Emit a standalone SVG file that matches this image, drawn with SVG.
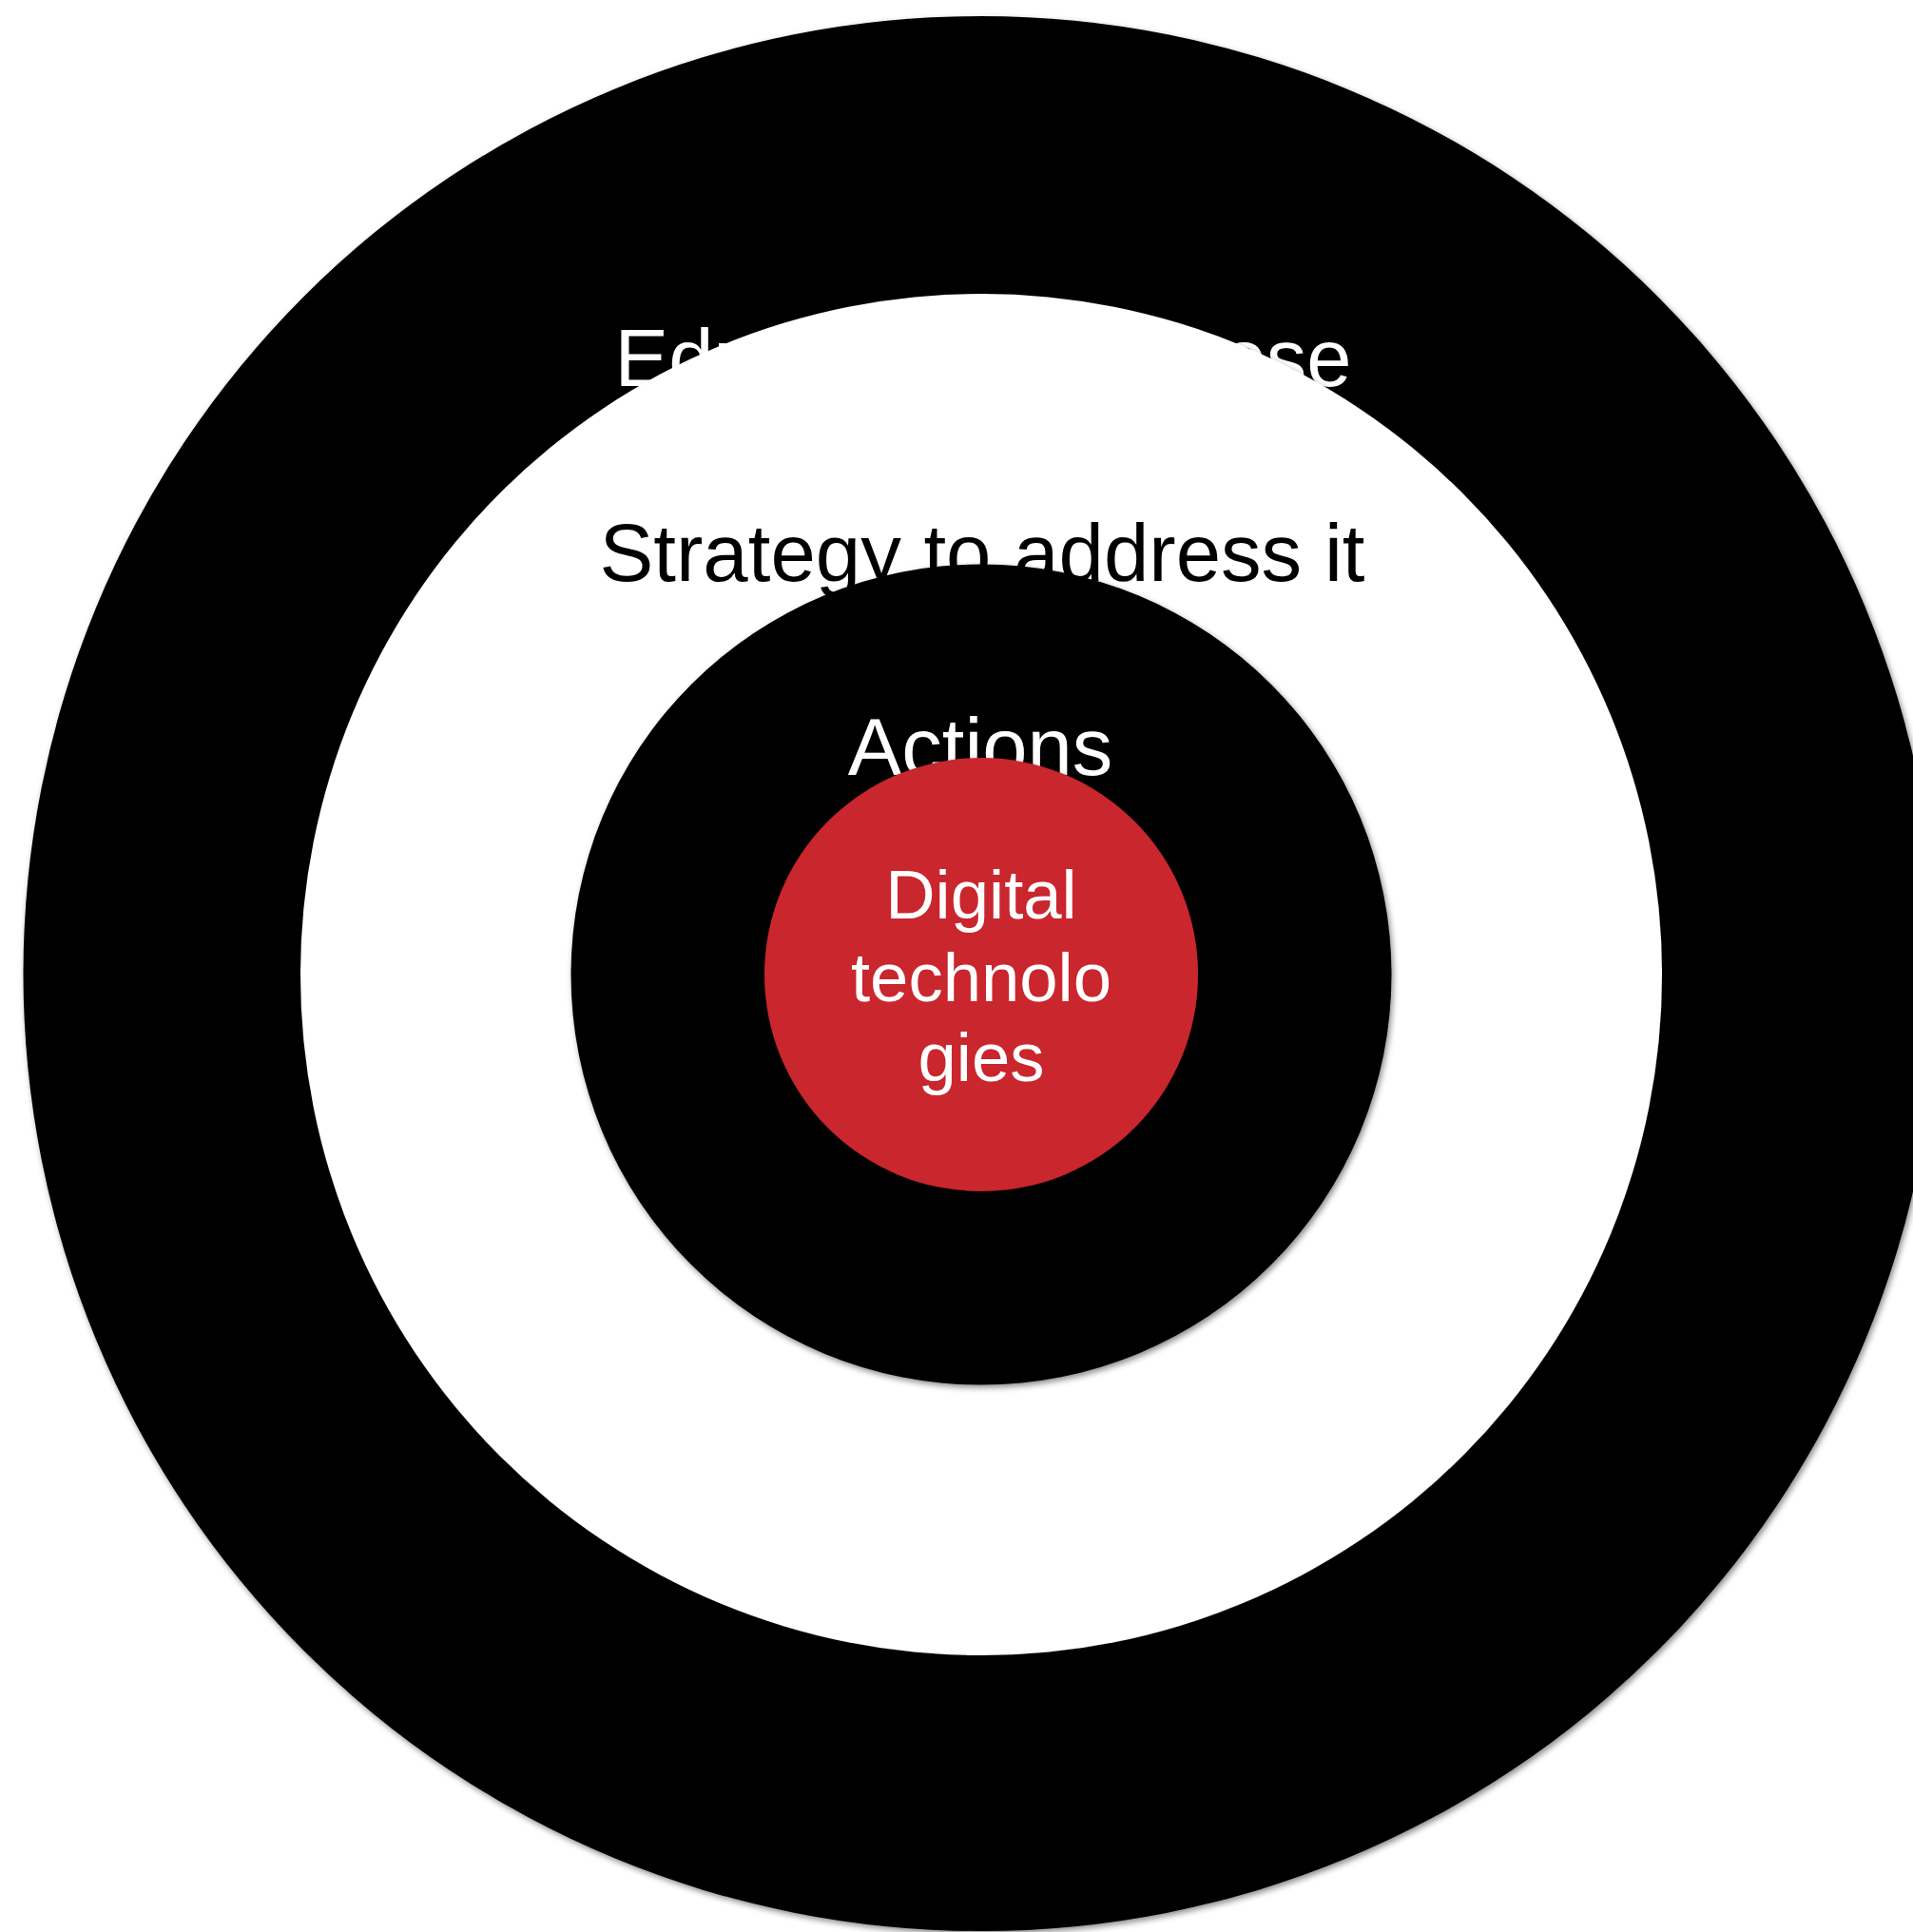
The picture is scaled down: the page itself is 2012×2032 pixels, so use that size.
<svg xmlns="http://www.w3.org/2000/svg" width="2012" height="2032" viewBox="0 0 2012 2032">
  <defs>
    <filter id="sh" x="-5%" y="-5%" width="110%" height="110%">
      <feDropShadow dx="2" dy="3" stdDeviation="3" flood-color="#000" flood-opacity="0.45"/>
    </filter>
    <style>
      .ring { filter: url(#sh); }
      .lbl { font-family: "Liberation Sans", Arial, sans-serif; text-anchor: middle; }
      .dig { font-size: 72.5px; fill: #ffffff; }
    </style>
  </defs>
  <rect width="2012" height="2032" fill="#ffffff"/>
  <g id="node-education">
    <circle class="ring" cx="1031.5" cy="1024" r="1007" fill="#000000"/>
    <text class="lbl" x="1034" y="406" font-size="85" fill="#ffffff">Educational purpose</text>
  </g>
  <g id="node-strategy">
    <circle class="ring" cx="1032" cy="1025" r="716" fill="#ffffff"/>
    <text class="lbl" x="1033" y="611" font-size="85.2" fill="#000000">Strategy to address it</text>
  </g>
  <g id="node-actions">
    <circle class="ring" cx="1032" cy="1025" r="431.5" fill="#000000"/>
    <text class="lbl" x="1031" y="815" font-size="85" fill="#ffffff">Actions</text>
  </g>
  <g id="node-digital">
    <circle class="ring" cx="1032" cy="1025" r="228" fill="#c9252e"/>
    <text class="lbl dig" x="1032" y="966">Digital</text>
    <text class="lbl dig" x="1032" y="1053">technolo</text>
    <text class="lbl dig" x="1032" y="1137">gies</text>
  </g>
  <g id="connectors"></g>
</svg>
